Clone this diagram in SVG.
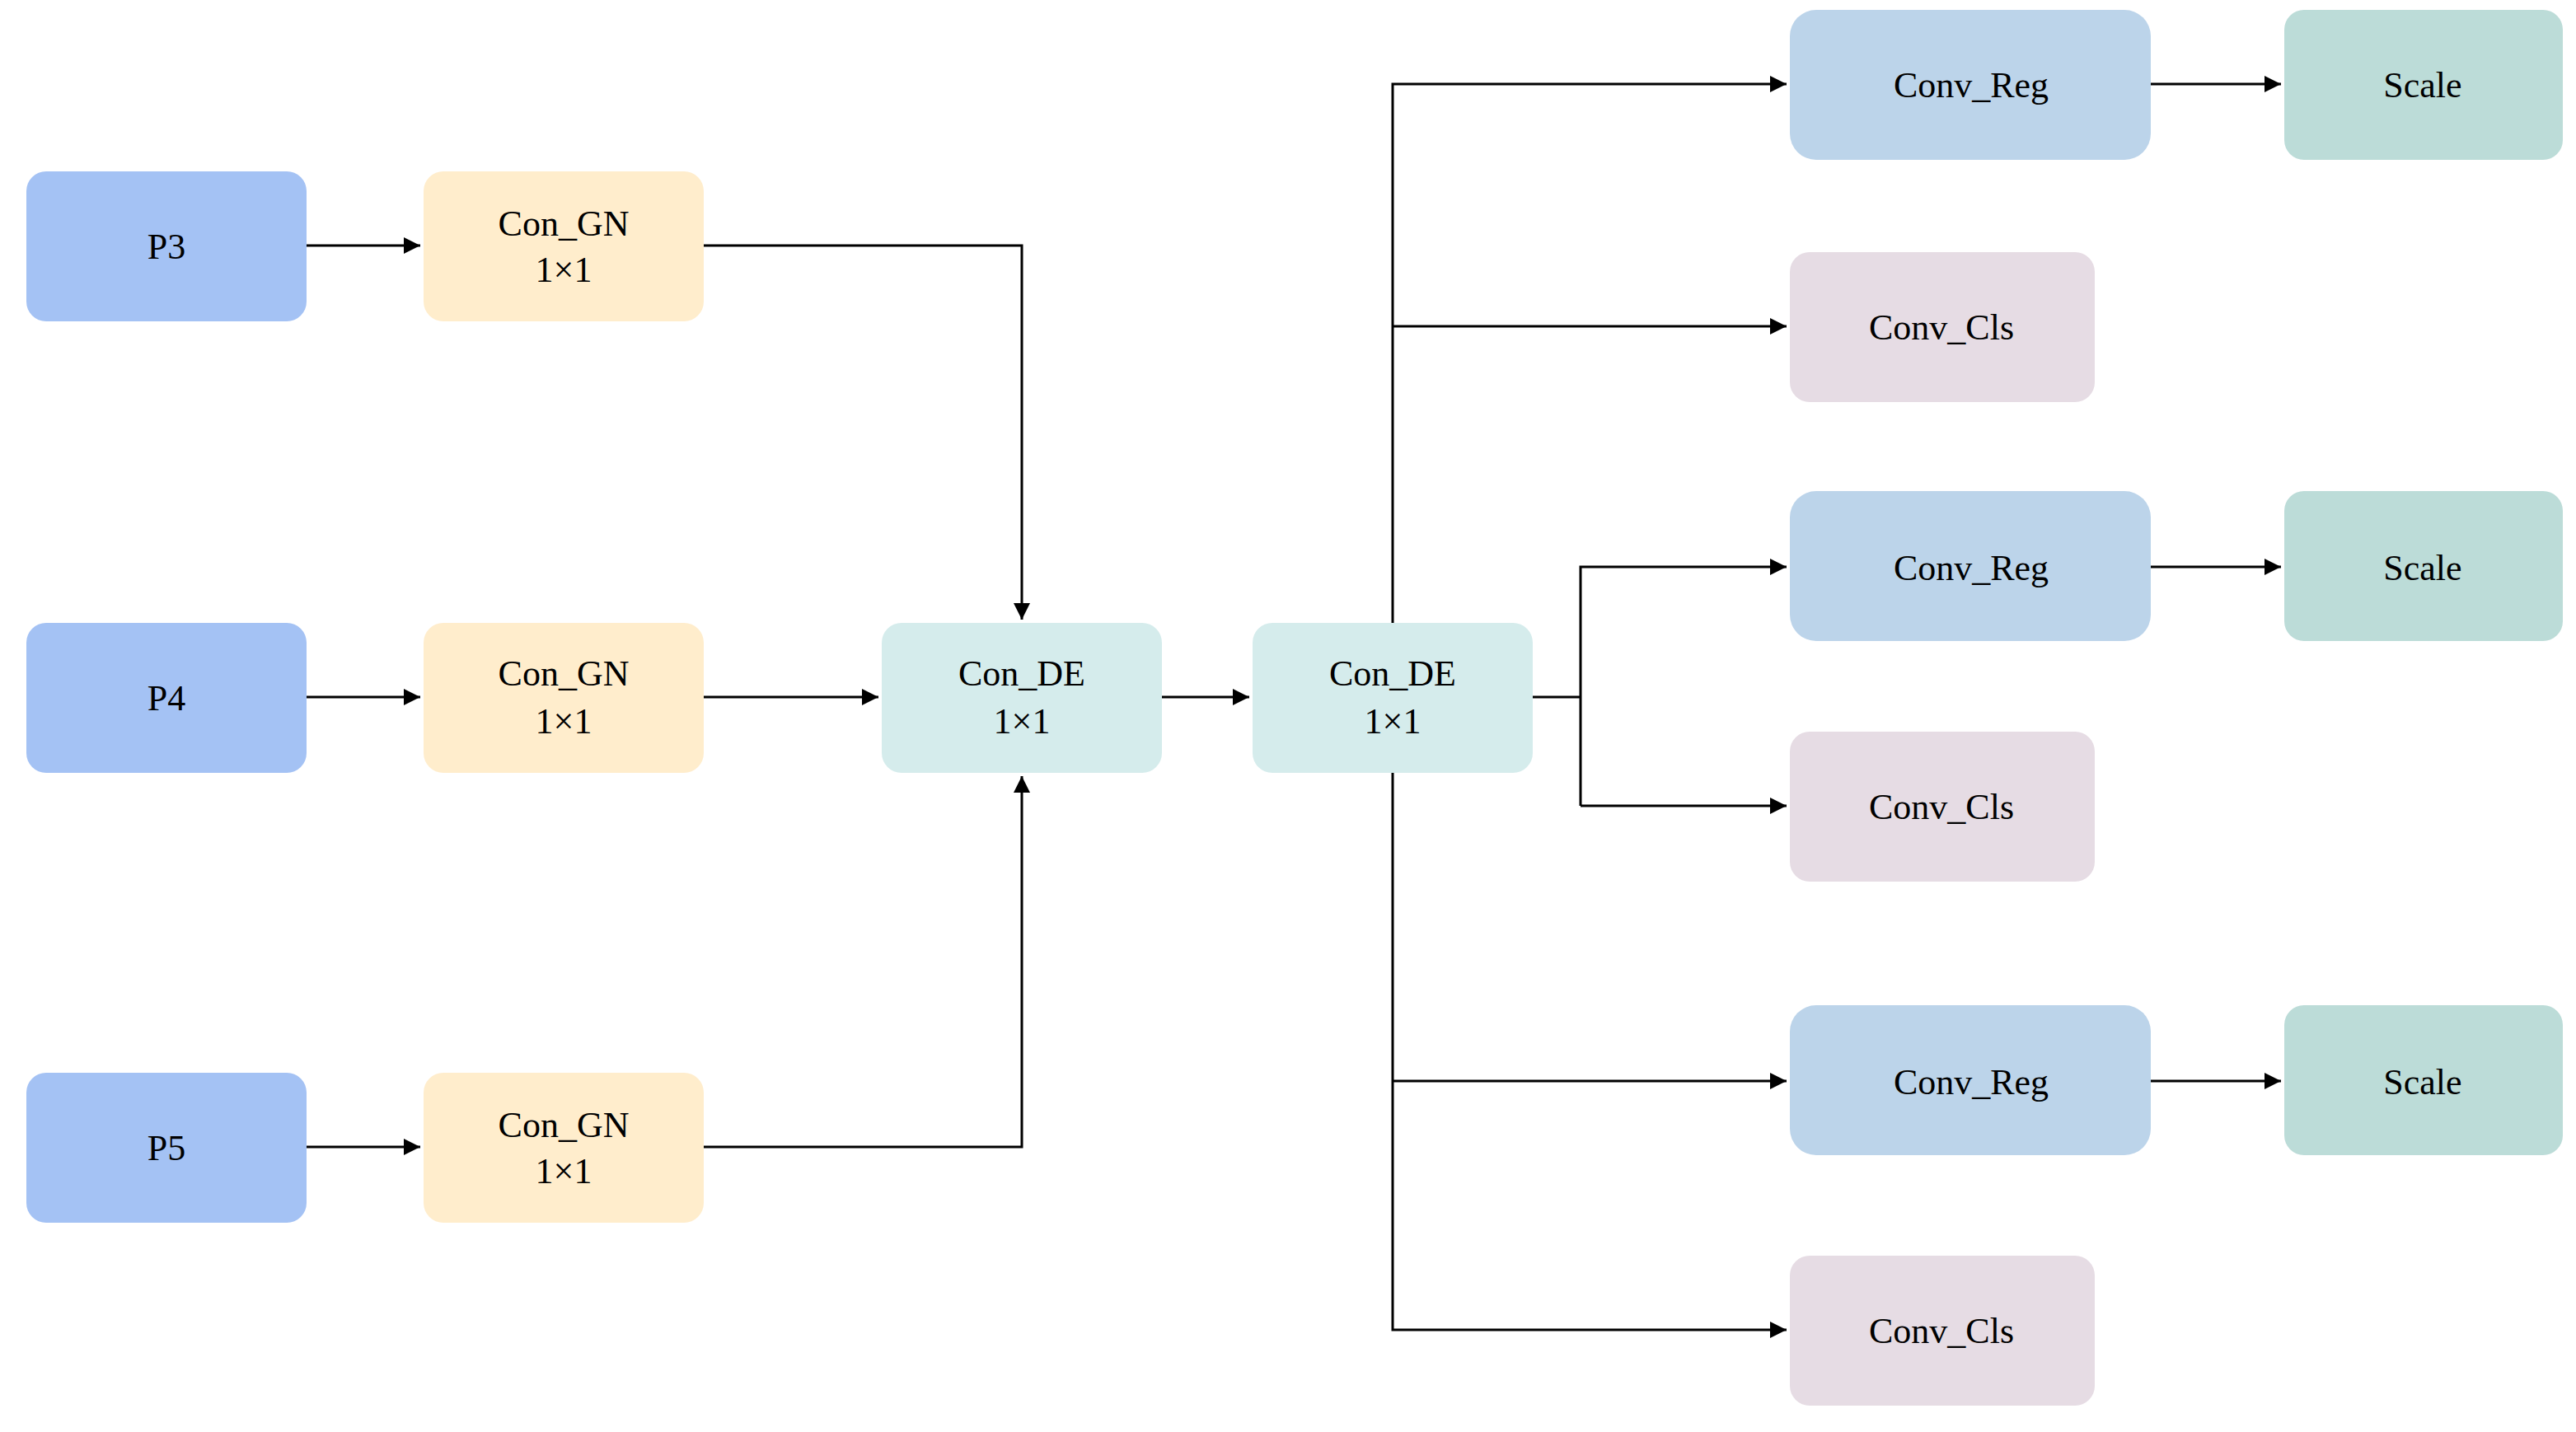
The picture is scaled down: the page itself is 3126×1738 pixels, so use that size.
<svg xmlns="http://www.w3.org/2000/svg" width="3126" height="1738" viewBox="0 0 3126 1738">
<defs>
<style>
.t{font-family:"Liberation Serif","Times New Roman",serif;font-size:22px;fill:#000;text-anchor:middle}
.c{fill:none;stroke:#000;stroke-width:1.5}
.p{fill:#a4c2f4}.g{fill:#ffedcc}.d{fill:#d5ecec}.r{fill:#bcd4ea}.s{fill:#bcdcd8}.k{fill:#e6dce4}
</style>
<marker id="a" viewBox="0 0 10 10" refX="10" refY="5" markerWidth="10" markerHeight="10" markerUnits="userSpaceOnUse" orient="auto"><path d="M0,0L10,5L0,10z" fill="#000"/></marker>
</defs>
<rect width="3126" height="1738" fill="#fff"/>
<g transform="scale(2)">
<g id="connectors" class="c">
<path d="M186,149H255" marker-end="url(#a)"/>
<path d="M186,423H255" marker-end="url(#a)"/>
<path d="M186,696H255" marker-end="url(#a)"/>
<path d="M427,149H620V376" marker-end="url(#a)"/>
<path d="M427,423H533" marker-end="url(#a)"/>
<path d="M427,696H620V471" marker-end="url(#a)"/>
<path d="M705,423H758" marker-end="url(#a)"/>
<path d="M845,378V51H1084" marker-end="url(#a)"/>
<path d="M845,198H1084" marker-end="url(#a)"/>
<path d="M845,469V807H1084" marker-end="url(#a)"/>
<path d="M845,656H1084" marker-end="url(#a)"/>
<path d="M930,423H959"/>
<path d="M959,489V344H1084" marker-end="url(#a)"/>
<path d="M959,489H1084" marker-end="url(#a)"/>
<path d="M1305,51H1384" marker-end="url(#a)"/>
<path d="M1305,344H1384" marker-end="url(#a)"/>
<path d="M1305,656H1384" marker-end="url(#a)"/>
</g>
<g id="p3"><rect class="p" x="16" y="104" width="170" height="91" rx="12"/><text class="t" x="101" y="157">P3</text></g>
<g id="p4"><rect class="p" x="16" y="378" width="170" height="91" rx="12"/><text class="t" x="101" y="431">P4</text></g>
<g id="p5"><rect class="p" x="16" y="651" width="170" height="91" rx="12"/><text class="t" x="101" y="704">P5</text></g>
<g id="gn1"><rect class="g" x="257" y="104" width="170" height="91" rx="12"/><text class="t" x="342" y="143">Con_GN</text><text class="t" x="342" y="171">1×1</text></g>
<g id="gn2"><rect class="g" x="257" y="378" width="170" height="91" rx="12"/><text class="t" x="342" y="416">Con_GN</text><text class="t" x="342" y="445">1×1</text></g>
<g id="gn3"><rect class="g" x="257" y="651" width="170" height="91" rx="12"/><text class="t" x="342" y="690">Con_GN</text><text class="t" x="342" y="718">1×1</text></g>
<g id="de1"><rect class="d" x="535" y="378" width="170" height="91" rx="12"/><text class="t" x="620" y="416">Con_DE</text><text class="t" x="620" y="445">1×1</text></g>
<g id="de2"><rect class="d" x="760" y="378" width="170" height="91" rx="12"/><text class="t" x="845" y="416">Con_DE</text><text class="t" x="845" y="445">1×1</text></g>
<g id="reg1"><rect class="r" x="1086" y="6" width="219" height="91" rx="16"/><text class="t" x="1196" y="59">Conv_Reg</text></g>
<g id="scale1"><rect class="s" x="1386" y="6" width="169" height="91" rx="12"/><text class="t" x="1470" y="59">Scale</text></g>
<g id="cls1"><rect class="k" x="1086" y="153" width="185" height="91" rx="12"/><text class="t" x="1178" y="206">Conv_Cls</text></g>
<g id="reg2"><rect class="r" x="1086" y="298" width="219" height="91" rx="16"/><text class="t" x="1196" y="352">Conv_Reg</text></g>
<g id="scale2"><rect class="s" x="1386" y="298" width="169" height="91" rx="12"/><text class="t" x="1470" y="352">Scale</text></g>
<g id="cls2"><rect class="k" x="1086" y="444" width="185" height="91" rx="12"/><text class="t" x="1178" y="497">Conv_Cls</text></g>
<g id="reg3"><rect class="r" x="1086" y="610" width="219" height="91" rx="16"/><text class="t" x="1196" y="664">Conv_Reg</text></g>
<g id="scale3"><rect class="s" x="1386" y="610" width="169" height="91" rx="12"/><text class="t" x="1470" y="664">Scale</text></g>
<g id="cls3"><rect class="k" x="1086" y="762" width="185" height="91" rx="12"/><text class="t" x="1178" y="815">Conv_Cls</text></g>
</g>
</svg>
